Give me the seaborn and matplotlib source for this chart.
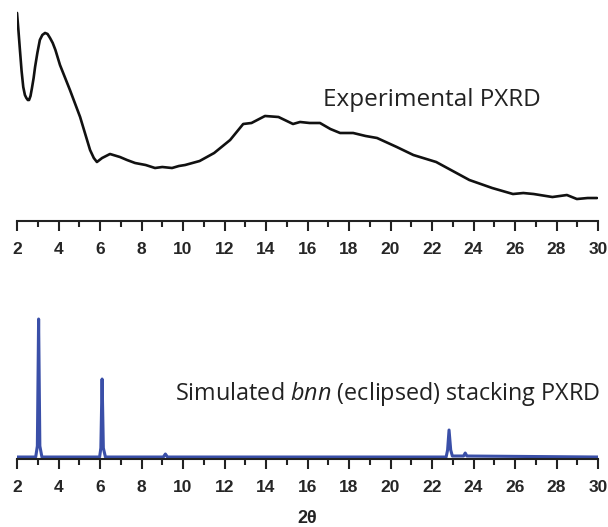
import numpy as np
import pandas as pd
import matplotlib
matplotlib.use('Agg')
import matplotlib.pyplot as plt
import seaborn as sns

# experimental PXRD (2theta, intensity a.u.)
exp_2theta = [2.0, 2.07, 2.14, 2.22, 2.3, 2.38, 2.45, 2.52, 2.58, 2.65, 2.72, 2.8, 2.87, 2.98,
              3.1, 3.22, 3.35, 3.47, 3.59, 3.72, 3.85, 4.07, 4.55, 5.04,
              5.52, 5.7, 5.85, 6.1, 6.48, 6.96, 7.3, 7.69, 8.2, 8.65, 9.0, 9.47, 9.8, 10.1, 10.8,
              11.5, 12.27, 12.9, 13.3, 13.95, 14.6, 15.3, 15.64, 16.1, 16.6, 17.1, 17.57, 18.2,
              18.8, 19.35, 20.3, 21.1, 22.2, 23.0, 23.8, 24.9, 25.9, 26.4, 26.9, 27.8, 28.5,
              28.98, 29.5, 29.95]
exp_int = [208, 190, 171, 150, 134, 126, 123, 121, 121, 125, 133, 143, 154, 168,
           181, 186, 188, 187, 183, 178, 171, 156, 131, 104,
           71, 63, 59, 63, 67, 64, 61, 58, 56, 53, 54, 53, 55, 56, 60,
           68, 81, 97, 98, 105, 104, 97, 99, 98, 98, 92, 88, 88,
           85, 83, 74, 66, 59, 50, 41, 33, 27, 28, 27, 24, 26,
           22, 23, 23]

# simulated bnn (eclipsed) stacking PXRD
sim_2theta = [2.0, 2.9, 2.98, 3.04, 3.1, 3.2, 5.98, 6.04, 6.1, 6.16, 6.26, 9.05, 9.15, 9.25,
              22.68, 22.75, 22.82, 22.9, 22.98, 23.52, 23.6, 23.68, 30.0]
sim_int = [1, 1, 12, 139, 12, 1, 1, 10, 79, 10, 1, 1, 4, 1,
           1, 8, 28, 8, 2, 2, 5, 2, 1]

exp_df = pd.DataFrame({'2theta': exp_2theta, 'I': exp_int})
sim_df = pd.DataFrame({'2theta': sim_2theta, 'I': sim_int})

sns.set_style('ticks')
plt.rcParams['mathtext.fontset'] = 'custom'
plt.rcParams['mathtext.rm'] = 'Open Sans'
plt.rcParams['mathtext.it'] = 'Open Sans:italic'

fig = plt.figure(figsize=(6.08, 5.27), dpi=100)
ax1 = fig.add_axes([0.028, 0.5806, 0.9556, 0.41])
ax2 = fig.add_axes([0.028, 0.129, 0.9556, 0.3036])

sns.lineplot(data=exp_df, x='2theta', y='I', ax=ax1, color='#111111', linewidth=1.9)
sns.lineplot(data=sim_df, x='2theta', y='I', ax=ax2, color='#3a4fa8', linewidth=2.2)

ax1.set_ylim(0, 216)
ax2.set_ylim(-1, 159)

for ax in (ax1, ax2):
    ax.set_xlim(2, 30)
    ax.set_xticks(np.arange(2, 31, 2))
    ax.set_xticks(np.arange(3, 30, 2), minor=True)
    ax.set_yticks([])
    ax.set_ylabel('')
    ax.set_xlabel('')
    sns.despine(ax=ax, left=True)
    ax.spines['bottom'].set_linewidth(1.5)
    ax.spines['bottom'].set_color('#222222')
    ax.tick_params(axis='x', which='major', length=7, width=1.5, color='#222222', pad=8)
    ax.tick_params(axis='x', which='minor', length=4, width=1.5, color='#222222')
    for lab in ax.get_xticklabels():
        lab.set_fontfamily('Liberation Sans')
        lab.set_fontweight('bold')
        lab.set_fontsize(12.5)

ax1.text(16.75, 121, 'Experimental PXRD', fontfamily='Open Sans', fontsize=17.5,
         color='#222222', va='center', ha='left')
ax2.text(9.61, 64, r'Simulated $\mathit{bnn}$ (eclipsed) stacking PXRD', fontfamily='Open Sans',
         fontsize=16.8, color='#222222', va='center', ha='left')
fig.text(0.505, 0.017, '2θ', fontfamily='Liberation Sans', fontweight='bold', fontsize=13,
         ha='center', va='center', color='#222222')

fig.savefig('out.png', dpi=100)
